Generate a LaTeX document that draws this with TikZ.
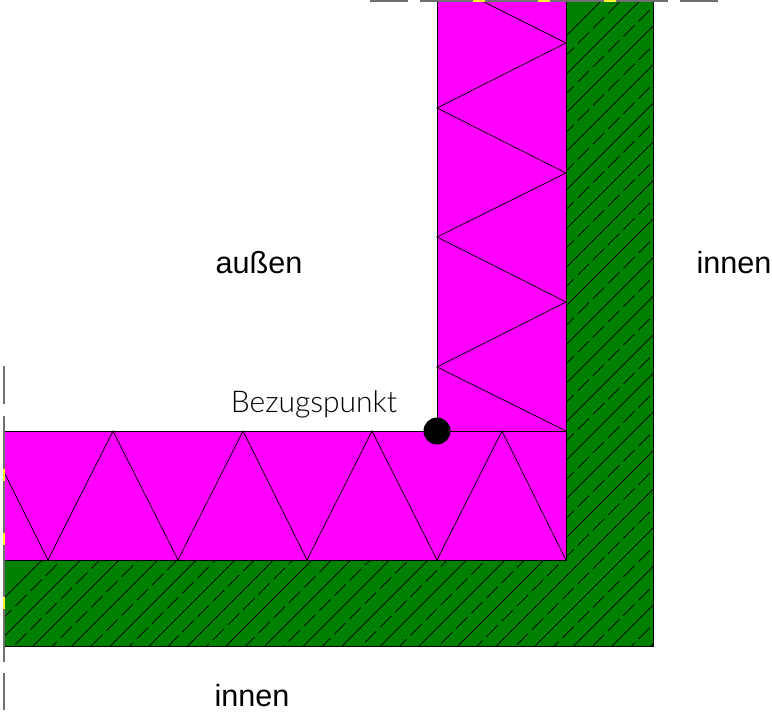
\documentclass[tikz,border=0pt]{standalone}
\usepackage{fontspec}
\setmainfont{Liberation Sans}
\newfontfamily\labelfont{Lato Light}
\definecolor{wallgreen}{HTML}{008000}
\definecolor{insul}{HTML}{FF00FF}
\definecolor{axisgray}{HTML}{707070}
\definecolor{markyellow}{HTML}{FFF030}
\tikzset{
  x=1pt,y=-1pt,
  edge/.style={draw=black,line width=1pt},
  zig/.style={draw=black!85!insul,line width=0.9pt,line join=miter},
  hatchsolid/.style={draw=black,line width=0.7pt},
  hatchdash/.style={draw=black,line width=0.7pt,dash pattern=on 16pt off 5.5pt},
  axisline/.style={draw=axisgray,line width=2pt},
  big/.style={font=\fontsize{30.6}{36}\selectfont,text=black,inner sep=0pt},
  refl/.style={font=\labelfont\fontsize{30}{36}\selectfont,text=black,inner sep=0pt},
}
\begin{document}
\begin{tikzpicture}
\useasboundingbox (0,0) rectangle (772,713);
% wall
\fill[wallgreen] (566,0) -| (653,646) -| (4,560) -| (566,0) -- cycle;
\begin{scope}
\clip (566,0) -| (653,646) -| (4,560) -| (566,0) -- cycle;
\foreach \k in {0,...,18}{
  \pgfmathsetmacro{\c}{602+38.6*\k}
  \pgfmathsetmacro{\d}{\c+19.3}
  \draw[hatchsolid] (0,\c) -- (\c,0);
  \draw[hatchdash] (0,\d) -- (\d,0);
}
\end{scope}
% insulation
\fill[insul] (437,0) rectangle (566,431);
\fill[insul] (4,431) rectangle (566,560);
\draw[zig] (480,0) -- (566,43) -- (437,108) -- (566,173) -- (437,237) -- (566,302) -- (437,367) -- (566,431);
\draw[zig] (4,472) -- (48,560) -- (113,431) -- (178,560) -- (243,431) -- (307,560) -- (372,431) -- (437,560) -- (502,431) -- (566,560);
% outlines
\draw[edge] (437,0) -- (437,431);
\draw[edge] (4,431) -- (566,431);
\draw[edge] (566,0) -- (566,560) -- (4,560);
\draw[edge] (653,0) -- (653,646) -- (4,646);
% axis lines
\draw[axisline] (370,0.5) -- (408,0.5);
\draw[axisline] (420,0.5) -- (668,0.5);
\draw[axisline] (680,0.5) -- (718,0.5);
\draw[axisline] (4,366) -- (4,404);
\draw[axisline] (4,416) -- (4,662);
\draw[axisline] (4,673) -- (4,710);
\foreach \a in {473,538,604}{
  \fill[markyellow] (\a,0) rectangle (\a+12,2);
}
\foreach \a in {469,533,597}{
  \fill[markyellow] (3,\a) rectangle (5,\a+12);
}
% reference point
\node[circle,fill=black,minimum size=27pt,inner sep=0pt] (ref) at (437,431) {};
% labels
\node[big] (aussen) at (259,263) {außen};
\node[big] (innenr) at (734,263) {innen};
\node[big] (innenb) at (252,696) {innen};
\node[refl] (bezug) at (314,404) {Bezugspunkt};
\end{tikzpicture}
\end{document}
